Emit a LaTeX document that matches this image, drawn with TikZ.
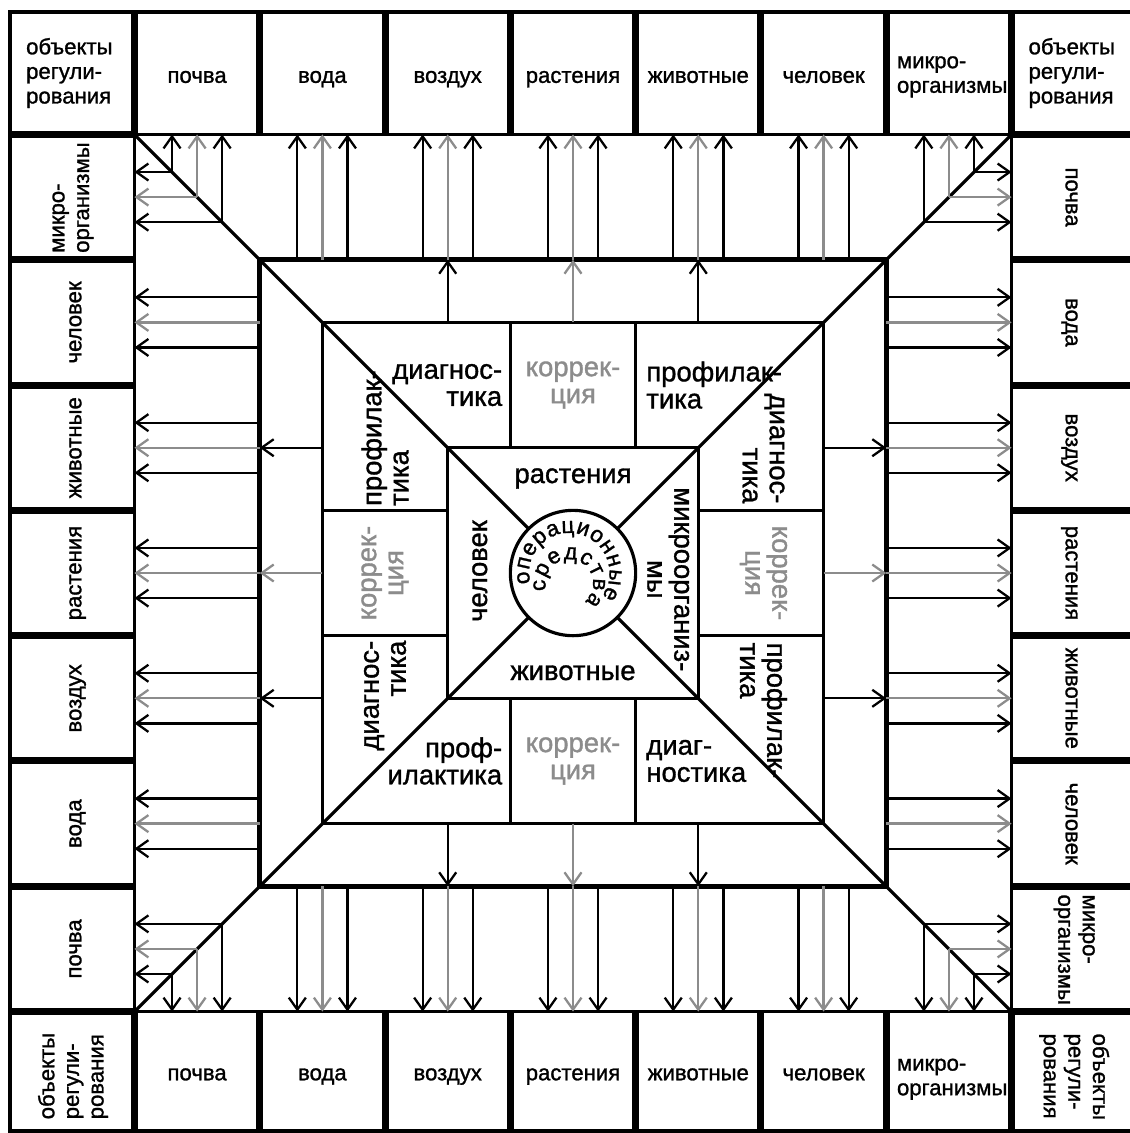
\documentclass[tikz,border=0pt]{standalone}
\usepackage{fontspec}
\setmainfont{Liberation Sans}[FakeBold=1.2]
\usetikzlibrary{arrows.meta,decorations.text}

\definecolor{corrgray}{gray}{0.55}
\newcommand{\stripfont}{\fontsize{6.3}{7}\selectfont}
\newcommand{\ringfont}{\fontsize{7.8}{7.7}\selectfont}
\newcommand{\circfont}{\fontsize{6.4}{7}\selectfont}

\begin{document}
\begin{tikzpicture}[x=1.253cm, y=1.253cm,
		frame/.style={line width=0.9pt},
		sep/.style={line width=2pt},
		inner/.style={line width=0.9pt},
		outarrow/.style={line width=0.65pt, -{Straight Barb[length=1.2mm, width=1.7mm]}},
		lbl/.style={font=\stripfont, inner sep=0pt},
		ring/.style={font=\ringfont, inner sep=0pt},
		corr/.style={ring, text=corrgray, align=center}]
	\useasboundingbox (-4.573,-4.469) rectangle (4.445,4.573);

	% Outer frame and inner border of the strips
	\draw[frame] (-4.493,-4.453) rectangle (4.47,4.477);
	\draw[frame] (-3.5,-3.5) rectangle (3.5,3.5);

	% Thick separators between the cells
	\foreach \t in {-3.5,-2.5,...,3.5} {
			\draw[sep] (\t, 3.5) -- (\t, 4.477);
			\draw[sep] (\t, -3.5) -- (\t, -4.453);
			\draw[sep] (-3.5, \t) -- (-4.493, \t);
			\draw[sep] (3.5, \t) -- (4.47, \t);
		}

	% Objects of regulation in the four strips
	\foreach \obj [count=\i] in {почва, вода, воздух, растения, животные, человек} {
			\node[lbl, anchor=mid] (top\i) at (\i-4, 3.986) {\obj};
			\node[lbl, anchor=mid] (bot\i) at (\i-4, -3.974) {\obj};
			\node[lbl, anchor=mid, rotate=90] (lft\i) at (-3.998, \i-4) {\obj};
			\node[lbl, anchor=mid, rotate=-90] (rgt\i) at (4.006, 4-\i) {\obj};
		}
	\node[lbl, anchor=west, align=left] (top7) at (2.58, 3.96) {микро-\\организмы};
	\node[lbl, anchor=west, align=left] (bot7) at (2.58, -4.04) {микро-\\организмы};
	\node[lbl, anchor=west, align=left, rotate=90] (lft7) at (-3.99, 2.55) {микро-\\организмы};
	\node[lbl, anchor=west, align=left, rotate=-90] (rgt7) at (4.0, -2.56) {микро-\\организмы};

	% Corner cells
	\node[lbl, anchor=west, align=left] (cornerTL) at (-4.37, 3.99) {объекты\\регули-\\рования};
	\node[lbl, anchor=west, align=left] (cornerTR) at (3.63, 3.99) {объекты\\регули-\\рования};
	\node[lbl, anchor=west, align=left, rotate=90] (cornerBL) at (-3.99, -4.365) {объекты\\регули-\\рования};
	\node[lbl, anchor=west, align=left, rotate=-90] (cornerBR) at (4.0, -3.67) {объекты\\регули-\\рования};

	% Nested squares and the core
	\draw[line width=1.3pt] (-2.5,-2.5) rectangle (2.5,2.5);
	\draw[inner] (-2,-2) rectangle (2,2);
	\draw[inner] (-1,-1) rectangle (1,1);
	\node[circle, draw, inner, minimum size=1.253cm, inner sep=0pt, outer sep=0pt] (core) at (0,0) {};

	% Diagonals from the corners to the core
	\draw[inner] (-3.5,3.5) -- (core.135);
	\draw[inner] (3.5,3.5) -- (core.45);
	\draw[inner] (3.5,-3.5) -- (core.-45);
	\draw[inner] (-3.5,-3.5) -- (core.-135);

	% Ring cells and arrows, one side at a time
	\foreach \a in {0,90,180,270} {
			\begin{scope}[rotate=\a]
				\draw[inner] (-0.5,1) -- (-0.5,2);
				\draw[inner] (0.5,1) -- (0.5,2);
				\foreach \p/\col in {-1/black, 0/corrgray, 1/black} {
						\coordinate (from) at (\p,2);
						\coordinate (to) at (\p,2.5);
						\draw[outarrow, \col] (from) -- (to);
					}
				\foreach \k in {-3,...,3} {
						\foreach \o/\col in {-0.2/black, 0/corrgray, 0.2/black} {
								\pgfmathsetmacro{\px}{\k+\o}
								\pgfmathsetmacro{\py}{max(2.5,abs(\px))}
								\coordinate (from) at (\px,\py);
								\coordinate (to) at (\px,3.5);
								\draw[outarrow, \col] (from) -- (to);
							}
					}
			\end{scope}
		}

	% Diagnostics, correction, prevention
	\node[ring, align=right, anchor=east] (diagT) at (-0.56, 1.5) {диагнос-\\тика};
	\node[corr] (corrT) at (0, 1.5) {коррек-\\ция};
	\node[ring, align=left, anchor=west] (profT) at (0.58, 1.5) {профилак-\\тика};
	\node[ring, align=right, anchor=east] (profB) at (-0.56, -1.5) {проф-\\илактика};
	\node[corr] (corrB) at (0, -1.5) {коррек-\\ция};
	\node[ring, align=left, anchor=west] (diagB) at (0.58, -1.5) {диаг-\\ностика};
	\node[ring, align=left, anchor=west, rotate=90] (profL) at (-1.5, 0.53) {профилак-\\тика};
	\node[corr, rotate=90] (corrL) at (-1.5, 0) {коррек-\\ция};
	\node[ring, align=right, anchor=east, rotate=90] (diagL) at (-1.5, -0.535) {диагнос-\\тика};
	\node[ring, align=right, anchor=east, rotate=-90] (diagR) at (1.52, 0.55) {диагнос-\\тика};
	\node[corr, rotate=-90] (corrR) at (1.52, 0) {коррек-\\ция};
	\node[ring, align=left, anchor=west, rotate=-90] (profR) at (1.52, -0.55) {профилак-\\тика};

	% Objects around the core
	\node[ring, anchor=base] (plants) at (0, 0.718) {растения};
	\node[ring, anchor=base] (animals) at (0, -0.854) {животные};
	\node[ring, anchor=base, rotate=90] (human) at (-0.686, 0.016) {человек};
	\node[ring, align=center, rotate=-90] (microbes) at (0.76, -0.05) {микроорганиз-\\мы};

	% Caption inside the core
	\path[decorate, decoration={text along path, text align={fit to path},
				text={|\circfont|операционные}}]
		(-0.03,0) ++(195:0.32) arc[start angle=195, end angle=-36, radius=0.32];
	\path[decorate, decoration={text along path, text align={fit to path},
				text={|\circfont|средства}}]
		(-0.03,-0.08) ++(198:0.19) arc[start angle=198, end angle=-50, radius=0.19];
\end{tikzpicture}
\end{document}
